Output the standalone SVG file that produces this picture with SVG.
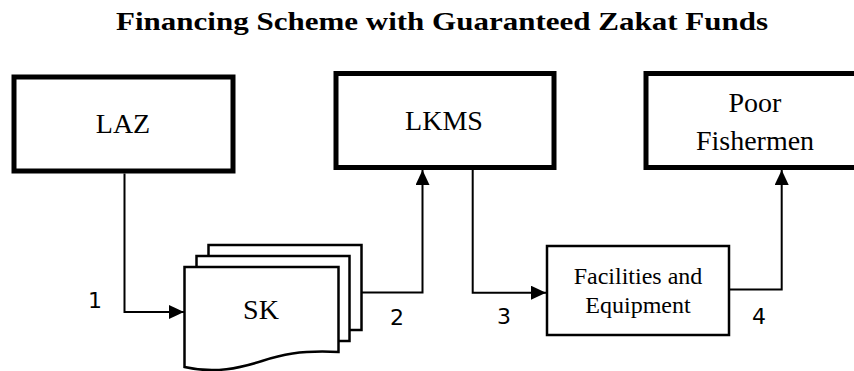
<svg xmlns="http://www.w3.org/2000/svg" width="854" height="371" viewBox="0 0 854 371">
<style>
.thick{fill:#fff;stroke:#000;stroke-width:5}
.thin{fill:#fff;stroke:#000;stroke-width:2.5}
text.lbl{font-family:'Liberation Serif','Times New Roman',serif;fill:#000;text-anchor:middle}
text.num{font-family:'DejaVu Sans',sans-serif;font-size:22px;fill:#000;text-anchor:middle}
.conn{fill:none;stroke:#000;stroke-width:2}
</style>
<defs>
<marker id="ah" markerUnits="userSpaceOnUse" markerWidth="16" markerHeight="14" refX="15" refY="7" orient="auto">
<path d="M0,0 L15,7 L0,14 Z" fill="#000"/>
</marker>
</defs>
<rect width="854" height="371" fill="#fff"/>
<text x="442" y="30" class="lbl" font-size="26" font-weight="bold" textLength="652" lengthAdjust="spacingAndGlyphs">Financing Scheme with Guaranteed Zakat Funds</text>

<g id="laz">
<rect class="thick" x="14" y="77" width="219" height="94"/>
<text class="lbl" x="123" y="133" font-size="28">LAZ</text>
</g>
<g id="lkms">
<rect class="thick" x="336" y="73.5" width="218" height="94"/>
<text class="lbl" x="444" y="130" font-size="28">LKMS</text>
</g>
<g id="poor">
<rect class="thick" x="646" y="73.5" width="218" height="94"/>
<text class="lbl" x="755" y="112" font-size="28">Poor</text>
<text class="lbl" x="755" y="150" font-size="28">Fishermen</text>
</g>
<g id="sk">
<rect class="thin" x="208.5" y="245" width="153" height="85"/>
<rect class="thin" x="196.5" y="256" width="153" height="85"/>
<path class="thin" d="M184.5,267 H338.5 V352 C300,350 280,355 262,361 C240,368 215,374 184.5,367 Z"/>
<text class="lbl" x="261" y="319" font-size="28">SK</text>
</g>
<g id="facilities">
<rect class="thin" x="547" y="246" width="182" height="89"/>
<text class="lbl" x="638" y="284" font-size="24">Facilities and</text>
<text class="lbl" x="638" y="313" font-size="24">Equipment</text>
</g>
<g id="connectors">
<path class="conn" d="M124.5,173.5 V312 H184" marker-end="url(#ah)"/>
<path class="conn" d="M361.7,292.5 H422.5 V170" marker-end="url(#ah)"/>
<path class="conn" d="M472.7,170 V292.7 H546" marker-end="url(#ah)"/>
<path class="conn" d="M729,289.5 H781.7 V170" marker-end="url(#ah)"/>
<text class="num" x="95" y="308">1</text>
<text class="num" x="397" y="325">2</text>
<text class="num" x="504" y="324">3</text>
<text class="num" x="759" y="324">4</text>
</g>
</svg>
